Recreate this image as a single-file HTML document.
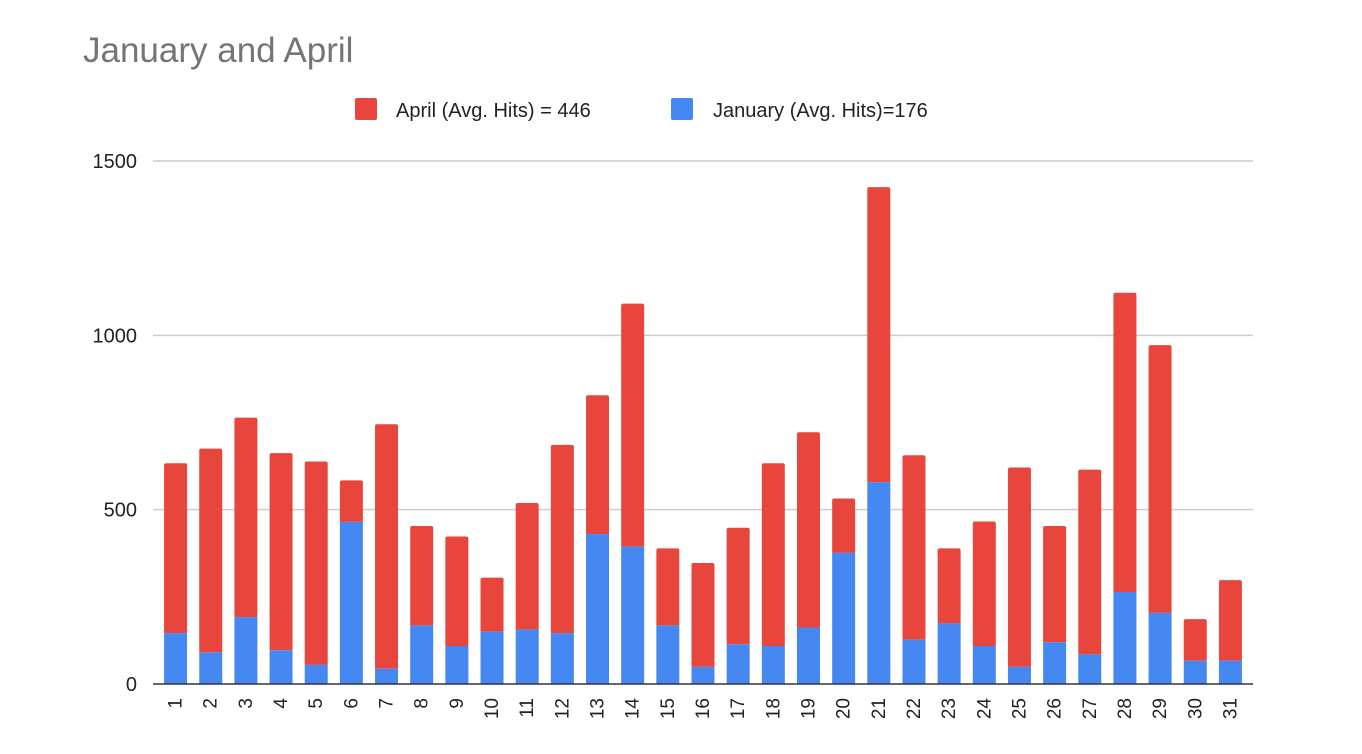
<!DOCTYPE html>
<html><head><meta charset="utf-8"><style>
html,body{margin:0;padding:0;background:#fff;}
svg{display:block;font-family:"Liberation Sans",Arial,sans-serif;}
</style></head><body>
<svg id="chart" width="1362" height="754" viewBox="0 0 1362 754">
<text x="83" y="62" font-size="35" fill="#757575">January and April</text>
<g>
<rect x="355" y="98" width="22" height="22" rx="2" fill="#e8453c"/>
<text x="396" y="117" font-size="20" fill="#222">April (Avg. Hits) = 446</text>
<rect x="671" y="98" width="22" height="22" rx="2" fill="#4688f1"/>
<text x="713" y="117" font-size="20" fill="#222">January (Avg. Hits)=176</text>
</g>
<g id="grid"></g><g id="bars"></g><g id="axes"></g>
</svg>
<script>
const days = ["1","2","3","4","5","6","7","8","9","10","11","12","13","14","15","16","17","18","19","20","21","22","23","24","25","26","27","28","29","30","31"];
const january = [146,91,192,97,55,465,44,168,109,150,156,146,430,394,168,49,114,109,162,376,579,127,174,109,49,120,85,264,204,67,67];
const totals = [633,675,764,662,638,584,745,453,423,305,519,686,828,1091,389,347,448,633,722,532,1425,656,389,466,621,453,615,1122,972,186,298];
const april = totals.map((t,i)=>t-january[i]);
const yTicks = [0,500,1000,1500];

const NS="http://www.w3.org/2000/svg";
const y0=684, yTop=161, yMax=1500;
const plotL=158, plotR=1248, gridL=153, gridR=1253;
const band=(plotR-plotL)/days.length, bw=23;
const yScale=v=>y0-(v/yMax)*(y0-yTop);
const xCenter=i=>plotL+band*(i+0.5);
function mk(tag,attrs,parent){const e=document.createElementNS(NS,tag);for(const k in attrs)e.setAttribute(k,attrs[k]);parent.appendChild(e);return e;}
const grid=document.getElementById('grid'),bars=document.getElementById('bars'),axes=document.getElementById('axes');
yTicks.forEach(t=>{
  if(t>0){const l=mk('line',{x1:gridL,x2:gridR,y1:yScale(t),y2:yScale(t),stroke:'#cccccc','stroke-width':1.5},grid);
  
  }
  const tx=mk('text',{x:137,y:yScale(t)+7,'text-anchor':'end','font-size':20,fill:'#222'},axes);
  tx.textContent=t;
  
  
});
days.forEach((d,i)=>{
  const cx=xCenter(i), x=cx-bw/2;
  const jt=yScale(january[i]), tt=yScale(january[i]+april[i]);
  const r=mk('path',{d:`M${x},${jt} L${x},${tt+2} Q${x},${tt} ${x+2},${tt} L${x+bw-2},${tt} Q${x+bw},${tt} ${x+bw},${tt+2} L${x+bw},${jt} Z`,fill:'#e8453c'},bars);
  
  
  const b=mk('rect',{x:x,y:jt,width:bw,height:y0-jt,fill:'#4688f1'},bars);
  
  
  const lx=cx+6, ly=698;
  const t=mk('text',{x:lx,y:ly,'text-anchor':'end','font-size':19,fill:'#222',transform:`rotate(-90 ${lx} ${ly})`},axes);
  t.textContent=d;
  
  
});
const ax=mk('line',{x1:gridL,x2:gridR,y1:y0,y2:y0,stroke:'#333','stroke-width':1.5},axes);


</script>
</body></html>
